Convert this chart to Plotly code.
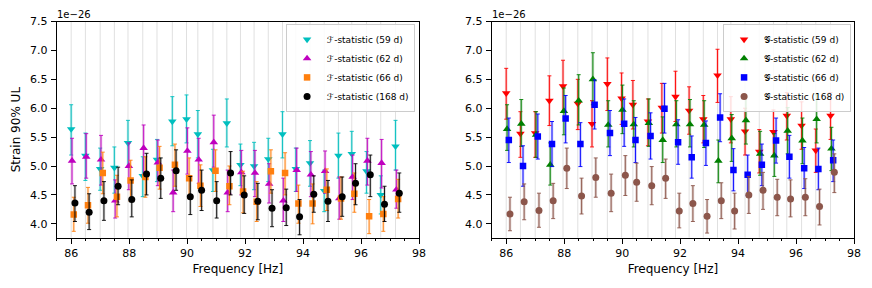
import plotly.graph_objects as go

# Band centre frequencies [Hz]
freq = [86.00, 86.49, 87.00, 87.49, 87.96, 88.47, 88.96, 89.49, 89.98, 90.37, 90.89, 91.37,
        91.84, 92.31, 92.80, 93.29, 93.75, 94.24, 94.73, 95.22, 95.68, 96.19, 96.68, 97.19]

# Strain 90% upper limits (units of 1e-26) with upper / lower error bar ends
F59_ul = [5.64, 5.18, 4.95, 4.97, 5.40, 4.83, 5.11, 5.77, 5.81, 5.55, 4.93, 5.74, 5.02, 5.00, 5.12, 5.55, 4.95, 5.05, 4.57, 5.18, 5.21, 4.91, 4.50, 5.34]
F59_hi = [6.06, 5.57, 5.31, 5.33, 5.79, 5.16, 5.46, 6.20, 6.23, 5.96, 5.29, 6.16, 5.38, 5.41, 5.48, 5.94, 5.31, 5.44, 4.93, 5.57, 5.60, 5.25, 4.83, 5.79]
F59_lo = [5.19, 4.75, 4.58, 4.53, 4.98, 4.47, 4.73, 5.35, 5.40, 5.14, 4.56, 5.33, 4.66, 4.59, 4.73, 5.14, 4.56, 4.65, 4.21, 4.79, 4.81, 4.53, 4.17, 4.93]

F62_ul = [5.09, 5.16, 5.11, 4.40, 5.00, 5.31, 5.06, 4.54, 5.26, 5.11, 5.41, 4.54, 4.89, 4.88, 4.69, 4.40, 4.93, 4.85, 4.91, 4.44, 4.81, 5.09, 5.05, 4.59]
F62_hi = [5.48, 5.56, 5.53, 4.76, 5.40, 5.71, 5.45, 4.93, 5.66, 5.48, 5.88, 4.93, 5.27, 5.27, 5.04, 4.79, 5.31, 5.25, 5.26, 4.81, 5.19, 5.48, 5.46, 4.93]
F62_lo = [4.69, 4.79, 4.67, 4.10, 4.59, 4.85, 4.66, 4.21, 4.86, 4.70, 4.98, 4.21, 4.50, 4.47, 4.36, 4.04, 4.56, 4.47, 4.53, 4.08, 4.42, 4.67, 4.62, 4.27]

F66_ul = [4.16, 4.32, 4.88, 4.47, 4.75, 4.81, 4.97, 5.02, 4.79, 4.66, 4.92, 4.65, 4.56, 4.38, 4.91, 4.88, 4.35, 4.35, 4.59, 4.44, 4.52, 4.13, 4.17, 4.43]
F66_hi = [4.46, 4.63, 5.24, 4.84, 5.10, 5.16, 5.34, 5.38, 5.14, 5.02, 5.28, 5.00, 4.91, 4.73, 5.28, 5.23, 4.67, 4.69, 4.95, 4.81, 4.88, 4.42, 4.47, 4.77]
F66_lo = [3.87, 4.01, 4.52, 4.12, 4.39, 4.46, 4.60, 4.65, 4.44, 4.30, 4.56, 4.33, 4.19, 4.04, 4.53, 4.50, 4.01, 4.00, 4.23, 4.08, 4.20, 3.83, 3.87, 4.10]

F168_ul = [4.36, 4.20, 4.40, 4.65, 4.42, 4.86, 4.79, 4.92, 4.47, 4.58, 4.40, 4.88, 4.50, 4.39, 4.27, 4.28, 4.12, 4.51, 4.39, 4.47, 4.70, 4.85, 4.34, 4.53]
F168_hi = [4.66, 4.52, 4.73, 4.98, 4.76, 5.22, 5.14, 5.28, 4.82, 4.93, 4.73, 5.25, 4.83, 4.70, 4.59, 4.60, 4.42, 4.83, 4.75, 4.81, 5.04, 5.19, 4.65, 4.88]
F168_lo = [4.04, 3.90, 4.06, 4.33, 4.12, 4.50, 4.44, 4.58, 4.16, 4.23, 4.10, 4.50, 4.18, 4.07, 3.95, 3.97, 3.81, 4.20, 4.04, 4.13, 4.33, 4.47, 4.04, 4.20]

G59_ul = [6.26, 5.56, 5.57, 6.13, 6.38, 6.08, 5.73, 6.42, 6.17, 6.06, 5.77, 6.01, 6.20, 5.96, 5.81, 6.57, 5.81, 5.60, 5.25, 5.59, 5.87, 5.70, 5.27, 5.87]
G59_hi = [6.69, 5.94, 5.94, 6.56, 6.83, 6.50, 6.13, 6.87, 6.61, 6.48, 6.16, 6.43, 6.64, 6.37, 6.22, 7.02, 6.20, 6.00, 5.63, 5.97, 6.27, 6.11, 5.64, 6.27]
G59_lo = [5.81, 5.15, 5.15, 5.70, 5.94, 5.63, 5.33, 5.96, 5.72, 5.64, 5.35, 5.57, 5.77, 5.55, 5.40, 6.10, 5.40, 5.19, 4.88, 5.18, 5.45, 5.29, 4.89, 5.46]

G62_ul = [5.64, 5.73, 5.54, 5.02, 5.95, 6.13, 6.50, 5.71, 5.97, 5.72, 5.74, 5.45, 5.72, 5.72, 5.71, 5.09, 5.48, 5.79, 5.21, 5.18, 5.61, 5.44, 5.81, 5.30]
G62_hi = [6.06, 6.15, 5.94, 5.40, 6.35, 6.58, 6.96, 6.13, 6.40, 6.13, 6.16, 5.85, 6.13, 6.15, 6.13, 5.45, 5.89, 6.19, 5.60, 5.56, 6.01, 5.83, 6.23, 5.67]
G62_lo = [5.27, 5.34, 5.15, 4.67, 5.54, 5.71, 6.06, 5.33, 5.56, 5.33, 5.34, 5.06, 5.33, 5.33, 5.32, 4.71, 5.08, 5.38, 4.84, 4.82, 5.21, 5.04, 5.40, 4.92]

G66_ul = [5.45, 5.00, 5.51, 5.38, 5.82, 5.38, 6.06, 5.57, 5.73, 5.45, 5.52, 5.99, 5.41, 5.15, 5.40, 5.84, 4.93, 4.85, 5.02, 5.44, 5.16, 4.96, 4.95, 5.10]
G66_hi = [5.83, 5.35, 5.90, 5.77, 6.22, 5.75, 6.49, 5.96, 6.16, 5.84, 5.92, 6.43, 5.80, 5.52, 5.78, 6.25, 5.30, 5.19, 5.38, 5.83, 5.53, 5.32, 5.31, 5.45]
G66_lo = [5.06, 4.65, 5.12, 4.99, 5.40, 4.99, 5.64, 5.18, 5.34, 5.06, 5.12, 5.57, 5.03, 4.79, 5.01, 5.42, 4.57, 4.49, 4.66, 5.05, 4.79, 4.61, 4.59, 4.73]

G168_ul = [4.17, 4.38, 4.23, 4.40, 4.96, 4.48, 4.80, 4.53, 4.84, 4.72, 4.66, 4.79, 4.22, 4.35, 4.13, 4.40, 4.22, 4.50, 4.58, 4.46, 4.43, 4.46, 4.30, 4.89]
G168_hi = [4.46, 4.69, 4.53, 4.70, 5.31, 4.79, 5.14, 4.86, 5.18, 5.05, 4.99, 5.12, 4.53, 4.66, 4.42, 4.71, 4.53, 4.82, 4.89, 4.77, 4.76, 4.78, 4.60, 5.21]
G168_lo = [3.88, 4.07, 3.94, 4.09, 4.61, 4.17, 4.46, 4.21, 4.49, 4.39, 4.33, 4.44, 3.93, 4.04, 3.84, 4.09, 3.91, 4.18, 4.25, 4.14, 4.12, 4.14, 3.98, 4.54]

y_ticks = [4.0, 4.5, 5.0, 5.5, 6.0, 6.5, 7.0, 7.5]
x_ticks = [86, 88, 90, 92, 94, 96, 98]

FONT = "DejaVu Sans"
fig = go.Figure()


def add_series(xa, ya, legend, name, ul, hi, lo, color, band, symbol, size, dodge):
    x = [f + dodge for f in freq]
    plus = [h - u for h, u in zip(hi, ul)]
    minus = [u - l for u, l in zip(ul, lo)]
    fig.add_trace(go.Scatter(
        x=x, y=ul, xaxis=xa, yaxis=ya, mode="markers",
        marker=dict(size=1, opacity=0),
        error_y=dict(type="data", symmetric=False, array=plus, arrayminus=minus,
                     color=band, thickness=2.6, width=0),
        showlegend=False, hoverinfo="skip"))
    fig.add_trace(go.Scatter(
        x=x, y=ul, xaxis=xa, yaxis=ya, mode="markers", name=name, legend=legend,
        marker=dict(symbol=symbol, size=size, color=color, line=dict(width=0)),
        error_y=dict(type="data", symmetric=False, array=plus, arrayminus=minus,
                     color=color, thickness=0.9, width=2)))


left = [
    ("ℱ-statistic (59 d)", F59_ul, F59_hi, F59_lo, "#00bfbf", "rgba(0,191,191,0.22)", "triangle-down", 7.5, 0.0),
    ("ℱ-statistic (62 d)", F62_ul, F62_hi, F62_lo, "#bf00bf", "rgba(191,0,191,0.22)", "triangle-up", 7.5, 0.03),
    ("ℱ-statistic (66 d)", F66_ul, F66_hi, F66_lo, "#ff7f0e", "rgba(255,127,14,0.22)", "square", 6.5, 0.09),
    ("ℱ-statistic (168 d)", F168_ul, F168_hi, F168_lo, "#000000", "rgba(0,0,0,0.18)", "circle", 7, 0.13),
]
right = [
    ("𝒢-statistic (59 d)", G59_ul, G59_hi, G59_lo, "#ff0000", "rgba(255,0,0,0.22)", "triangle-down", 7.5, 0.0),
    ("𝒢-statistic (62 d)", G62_ul, G62_hi, G62_lo, "#008000", "rgba(0,128,0,0.22)", "triangle-up", 7.5, 0.03),
    ("𝒢-statistic (66 d)", G66_ul, G66_hi, G66_lo, "#0000ff", "rgba(0,0,255,0.22)", "square", 6.5, 0.09),
    ("𝒢-statistic (168 d)", G168_ul, G168_hi, G168_lo, "#8c564b", "rgba(140,86,75,0.3)", "circle", 7, 0.13),
]
for s in left:
    add_series("x", "y", "legend", *s)
for s in right:
    add_series("x2", "y2", "legend2", *s)

XR = [85.5, 98]
YR = [3.76, 7.5]
YDOM = [0.1747, 0.9253]


def xaxis(domain, anchor, title):
    return dict(domain=domain, anchor=anchor, range=XR, tickmode="array", tickvals=x_ticks,
                ticks="outside", ticklen=5, tickcolor="black", showline=True, linecolor="black",
                linewidth=1, mirror=True, showgrid=False, zeroline=False, automargin=False,
                minor=dict(tickmode="linear", tick0=85.5, dtick=0.5, ticks="outside", ticklen=2.5,
                           tickcolor="black", showgrid=False),
                title=dict(text=title, font=dict(size=12), standoff=5),
                tickfont=dict(size=11))


def yaxis(anchor, title):
    return dict(domain=YDOM, anchor=anchor, range=YR, tickmode="array", tickvals=y_ticks,
                tickformat=".1f", ticks="outside", ticklen=5, tickcolor="black", showline=True,
                linecolor="black", linewidth=1, mirror=True, showgrid=False, zeroline=False,
                automargin=False, ticklabelstandoff=1,
                title=dict(text=title, font=dict(size=12), standoff=6), tickfont=dict(size=11))


# light vertical guide lines at each analysed band, placed via the x data scale
grid_shapes = []
for xr, yr in (("x", "y domain"), ("x2", "y2 domain")):
    for f in freq:
        grid_shapes.append(dict(type="line", xref=xr, yref=yr, x0=f, x1=f, y0=0, y1=1,
                                layer="below", line=dict(color="#e0e0e0", width=1)))

legend_style = dict(bgcolor="rgba(255,255,255,0.85)", bordercolor="#cccccc", borderwidth=1,
                    font=dict(size=9, family=FONT), xanchor="right", yanchor="top",
                    itemclick=False, itemwidth=30)

fig.update_layout(
    width=872, height=288,
    margin=dict(l=0, r=0, t=0, b=0, autoexpand=False),
    paper_bgcolor="white", plot_bgcolor="white",
    font=dict(family=FONT, size=11, color="black"),
    xaxis=xaxis([0.065, 0.4805], "y", "Frequency [Hz]"),
    xaxis2=xaxis([0.5639, 0.9794], "y2", "Frequency [Hz]"),
    yaxis=yaxis("x", "Strain 90% UL"),
    yaxis2=yaxis("x2", ""),
    legend=dict(x=0.476, y=0.917, **legend_style),
    legend2=dict(x=0.976, y=0.917, **legend_style),
    shapes=grid_shapes,
    annotations=[
        dict(text="1e−26", x=0.065, y=0.951, xref="paper", yref="paper", xanchor="left",
             yanchor="middle", showarrow=False, font=dict(size=10), xshift=-2),
        dict(text="1e−26", x=0.5639, y=0.951, xref="paper", yref="paper", xanchor="left",
             yanchor="middle", showarrow=False, font=dict(size=10), xshift=-2),
    ],
    showlegend=True,
)

fig.write_html("out.html",
               config={"displayModeBar": False},
               post_script="document.body.style.margin='0';document.body.style.overflow='hidden';")
